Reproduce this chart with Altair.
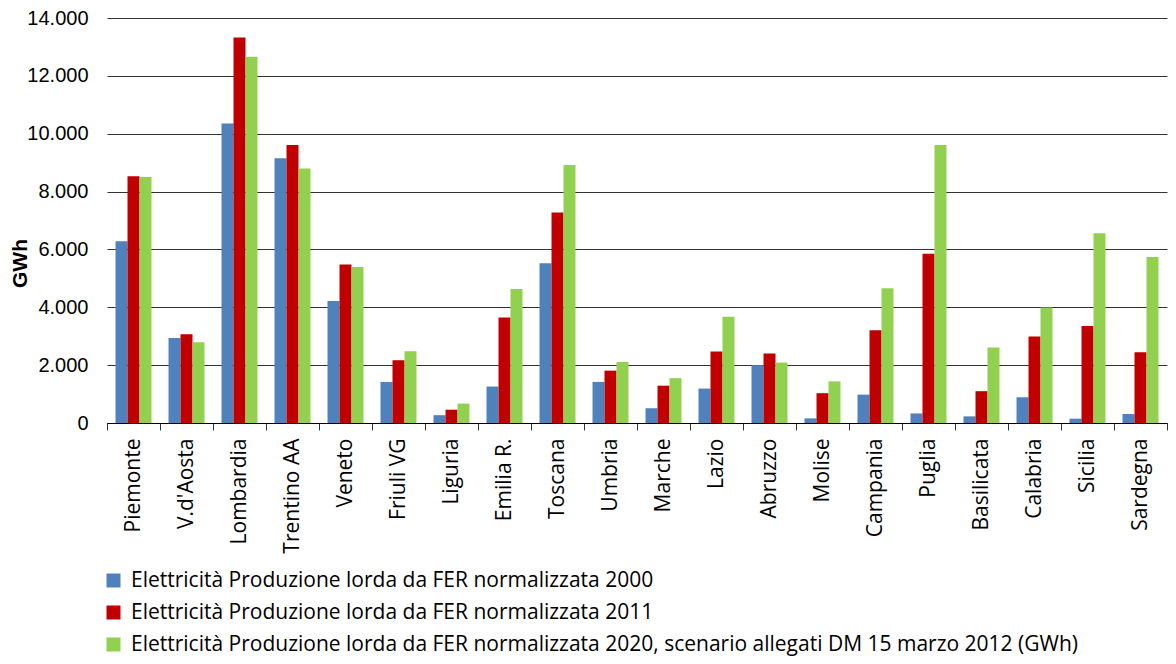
import altair as alt
import pandas as pd

regions = ["Piemonte", "V.d'Aosta", "Lombardia", "Trentino AA", "Veneto", "Friuli VG",
           "Liguria", "Emilia R.", "Toscana", "Umbria", "Marche", "Lazio", "Abruzzo",
           "Molise", "Campania", "Puglia", "Basilicata", "Calabria", "Sicilia", "Sardegna"]

series_names = [
    "Elettricità Produzione lorda da FER normalizzata 2000",
    "Elettricità Produzione lorda da FER normalizzata 2011",
    "Elettricità Produzione lorda da FER normalizzata 2020, scenario allegati DM 15 marzo 2012 (GWh)",
]

v2000 = [6280, 2940, 10350, 9150, 4220, 1420, 270, 1260, 5520, 1420, 510, 1190, 2000,
         160, 980, 330, 230, 890, 150, 310]
v2011 = [8530, 3070, 13330, 9610, 5480, 2170, 460, 3650, 7280, 1810, 1290, 2470, 2400,
         1030, 3210, 5850, 1100, 2990, 3350, 2450]
v2020 = [8500, 2790, 12660, 8800, 5390, 2480, 670, 4630, 8920, 2110, 1550, 3670, 2090,
         1440, 4660, 9610, 2610, 3990, 6560, 5740]

colors = ["#4F81BD", "#C00000", "#92D050"]
y_ticks = [0, 2000, 4000, 6000, 8000, 10000, 12000, 14000]

rows = []
for s, vals in zip(series_names, [v2000, v2011, v2020]):
    for r, v in zip(regions, vals):
        rows.append({"regione": r, "serie": s, "valore": v})
df = pd.DataFrame(rows)

chart = alt.Chart(df).mark_bar().encode(
    x=alt.X("regione:N", sort=regions,
            scale=alt.Scale(paddingInner=0, paddingOuter=0),
            axis=alt.Axis(title=None, labelAngle=-90, labelFont="Open Sans",
                          labelFontSize=21, labelColor="#000000", tickBand="extent",
                          tickSize=7, tickColor="#333333", domainColor="#000000",
                          labelPadding=8, grid=False)),
    xOffset=alt.XOffset("serie:N", sort=series_names,
                        scale=alt.Scale(paddingInner=0, paddingOuter=0.71)),
    y=alt.Y("valore:Q", scale=alt.Scale(domain=[0, 14000], nice=False),
            axis=alt.Axis(title="GWh", values=y_ticks,
                          labelExpr="replace(format(datum.value, ','), ',', '.')",
                          labelFont="Liberation Sans", labelFontSize=20,
                          labelColor="#000000", labelPadding=19, ticks=False,
                          domain=False, gridColor="#333333", gridWidth=1,
                          titleFont="Liberation Sans", titleFontSize=21,
                          titleFontWeight="bold", titleColor="#000000",
                          titleAngle=270, titleX=-87, titleY=245,
                          titleAlign="center", titleBaseline="middle")),
    color=alt.Color("serie:N", sort=series_names,
                    scale=alt.Scale(domain=series_names, range=colors),
                    legend=alt.Legend(title=None, orient="none", legendX=-4,
                                      legendY=552, direction="vertical",
                                      symbolType="square", symbolSize=196,
                                      symbolStrokeWidth=0, labelFont="Open Sans",
                                      labelFontSize=21, labelColor="#000000",
                                      labelLimit=2000, labelOffset=7,
                                      rowPadding=10, padding=0)),
).properties(
    width=1060, height=405,
    autosize=alt.AutoSizeParams(type="none"),
    padding={"left": 99, "top": 10, "right": 1, "bottom": 233},
).configure_view(stroke=None)

chart.save("out.html", embed_options={"renderer": "svg", "actions": False})
